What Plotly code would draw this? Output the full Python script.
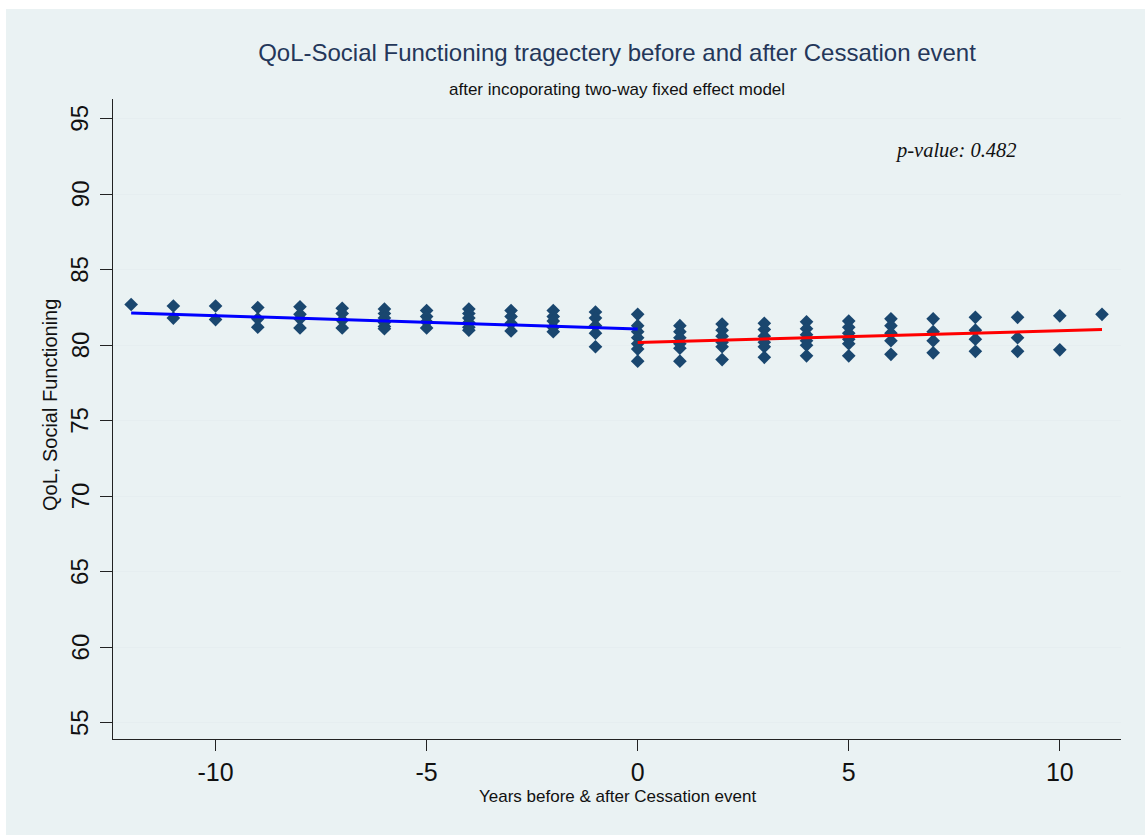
import plotly.graph_objects as go

# ---- data ----
years = list(range(-12, 12))
obs_values = [
    [82.7],                                   # -12
    [82.6, 81.8],                             # -11
    [82.6, 81.7],                             # -10
    [82.5, 81.75, 81.2],                      # -9
    [82.55, 82.05, 81.75, 81.15],             # -8
    [82.45, 82.1, 81.65, 81.15],              # -7
    [82.4, 82.1, 81.8, 81.5, 81.25, 81.1],    # -6
    [82.3, 81.9, 81.55, 81.15],               # -5
    [82.4, 82.1, 81.8, 81.5, 81.2, 81.0],     # -4
    [82.3, 81.9, 81.45, 80.95],               # -3
    [82.3, 81.9, 81.6, 81.2, 80.9],           # -2
    [82.2, 81.8, 81.3, 80.8, 79.9],           # -1
    [82.05, 81.3, 80.9, 80.5, 80.1, 79.75, 78.95],  # 0
    [81.3, 80.9, 80.5, 80.1, 79.8, 78.95],    # 1
    [81.4, 81.0, 80.6, 80.2, 79.9, 79.05],    # 2
    [81.45, 81.05, 80.6, 80.2, 79.9, 79.2],   # 3
    [81.55, 81.1, 80.7, 80.3, 80.0, 79.3],    # 4
    [81.6, 81.2, 80.8, 80.4, 80.1, 79.3],     # 5
    [81.75, 81.3, 80.8, 80.3, 79.4],          # 6
    [81.75, 80.9, 80.3, 79.5],                # 7
    [81.85, 81.0, 80.4, 79.6],                # 8
    [81.85, 80.5, 79.6],                      # 9
    [81.95, 79.7],                            # 10
    [82.05],                                  # 11
]

pre_years = list(range(-12, 1))
pre_fit = [82.14, 82.05, 81.97, 81.88, 81.79, 81.70, 81.61,
           81.53, 81.44, 81.35, 81.26, 81.17, 81.08]
post_years = list(range(0, 12))
post_fit = [80.18, 80.26, 80.34, 80.41, 80.49, 80.57,
            80.65, 80.73, 80.80, 80.88, 80.96, 81.04]

event_year = 0
y_ticks = [55, 60, 65, 70, 75, 80, 85, 90, 95]
y_tick_labels = [str(v) for v in y_ticks]
x_ticks = [-10, -5, 0, 5, 10]
x_tick_labels = ["-10", "-5", "0", "5", "10"]
p_value_text = "p-value: 0.482"

title_text = "QoL-Social Functioning tragectery before and after Cessation event"
subtitle_text = "after incoporating two-way fixed effect model"
x_title = "Years before & after Cessation event"
y_title = "QoL, Social Functioning"

# ---- build ----
px_, py_ = [], []
for yr, vals in zip(years, obs_values):
    for v in vals:
        px_.append(yr)
        py_.append(v)

BG = "#eaf2f3"
FONT = "Liberation Sans, Arial, sans-serif"
W, H = 1145, 835
L, R, T, B = 113, 24, 99, 96
PW, PH = W - L - R, H - T - B


def px2paper_x(p):
    return (p - L) / PW


def px2paper_y(p):
    return (H - B - p) / PH


fig = go.Figure()
fig.add_trace(go.Scatter(
    x=px_, y=py_, mode="markers",
    marker=dict(symbol="diamond", size=10.5, color="#1a476f"),
    showlegend=False, hoverinfo="x+y"))
fig.add_trace(go.Scatter(
    x=pre_years, y=pre_fit, mode="lines",
    line=dict(color="#0000ff", width=3), showlegend=False))
fig.add_trace(go.Scatter(
    x=post_years, y=post_fit, mode="lines",
    line=dict(color="#ff0000", width=3), showlegend=False))

fig.add_shape(type="line", xref="x", yref="paper",
              x0=event_year, x1=event_year, y0=0, y1=1,
              line=dict(color="#222222", width=1.3), layer="below")

# gray graph region with thin white border at top/left like the reference
fig.add_shape(type="rect", xref="paper", yref="paper",
              x0=px2paper_x(6), x1=px2paper_x(W + 2),
              y0=px2paper_y(H + 2), y1=px2paper_y(9),
              fillcolor=BG, line=dict(width=0), layer="below")

# vertical y tick labels (Stata style), placed at the axis tick values
for v, lab in zip(y_ticks, y_tick_labels):
    fig.add_annotation(x=px2paper_x(80), xref="paper", y=v, yref="y",
                       text=lab, showarrow=False, textangle=-90,
                       font=dict(family=FONT, size=24, color="#111111"),
                       xanchor="center", yanchor="middle")

fig.add_annotation(x=px2paper_x(617), xref="paper", y=px2paper_y(89), yref="paper",
                   text=subtitle_text, showarrow=False,
                   font=dict(family=FONT, size=17, color="#111111"),
                   xanchor="center", yanchor="middle")
fig.add_annotation(x=px2paper_x(617), xref="paper", y=px2paper_y(796), yref="paper",
                   text=x_title, showarrow=False,
                   font=dict(family=FONT, size=17, color="#111111"),
                   xanchor="center", yanchor="middle")
fig.add_annotation(x=px2paper_x(50), xref="paper", y=px2paper_y(405), yref="paper",
                   text=y_title, showarrow=False, textangle=-90,
                   font=dict(family=FONT, size=20, color="#111111"),
                   xanchor="center", yanchor="middle")
fig.add_annotation(x=px2paper_x(956), xref="paper", y=px2paper_y(150), yref="paper",
                   text="<i>" + p_value_text + "</i>", showarrow=False,
                   font=dict(family="Liberation Serif, Times New Roman, serif",
                             size=20.5, color="#111111"),
                   xanchor="center", yanchor="middle")

fig.update_layout(
    width=W, height=H,
    margin=dict(l=L, r=R, t=T, b=B),
    paper_bgcolor="white",
    plot_bgcolor="white",
    title=dict(text=title_text, x=617 / W, xanchor="center",
               y=1 - 53 / H, yanchor="middle", yref="container",
               font=dict(family=FONT, size=24, color="#24375a")),
    font=dict(family=FONT, color="#111111"),
    xaxis=dict(range=[-12.43, 11.45], tickvals=x_ticks, ticktext=x_tick_labels,
               ticks="outside", ticklen=11, tickwidth=1.3, tickcolor="#222222",
               showline=True, linecolor="#222222", linewidth=1.3,
               showgrid=False, zeroline=False,
               tickfont=dict(family=FONT, size=25, color="#111111")),
    yaxis=dict(range=[53.94, 96.3], tickvals=y_ticks, showticklabels=False,
               ticks="outside", ticklen=12, tickwidth=1.3, tickcolor="#222222",
               showline=True, linecolor="#222222", linewidth=1.3,
               showgrid=True, gridcolor="#e6eef0", gridwidth=1,
               zeroline=False),
)

fig.write_html("out.html", config={"displayModeBar": False},
               post_script="document.body.style.margin='0px';document.body.style.overflow='hidden';")
